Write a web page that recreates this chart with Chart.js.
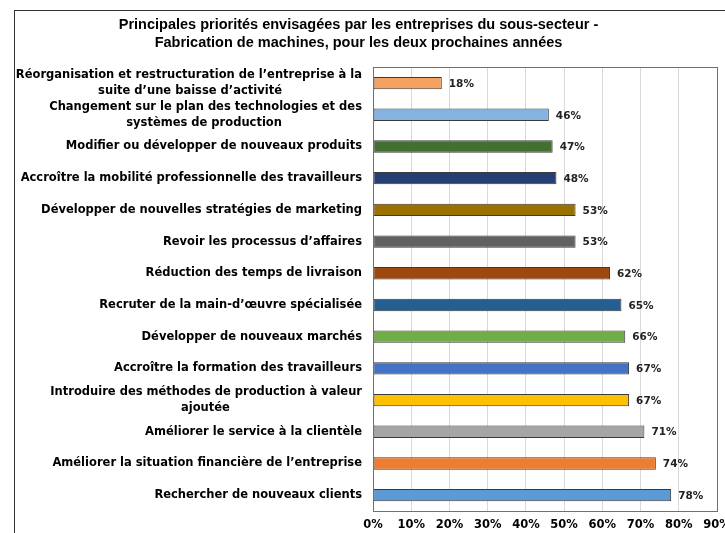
<!DOCTYPE html>
<html>
<head>
<meta charset="utf-8">
<script src="https://cdn.jsdelivr.net/npm/chart.js@4/dist/chart.umd.min.js"></script>
<style>
  html, body { margin: 0; padding: 0; background: #fff; overflow: hidden; }
  #wrap { position: relative; width: 725px; height: 533px; }
  #frame {
    position: absolute; left: 14px; top: 10px; width: 720px; height: 530px;
    border-left: 1px solid #333; border-top: 1px solid #333;
  }
  #chart { position: absolute; left: 0; top: 0; }
</style>
</head>
<body>
<div id="wrap">
  <div id="frame"></div>
  <canvas id="chart" width="725" height="533"></canvas>
</div>
<script>
const titleLines = [
  'Principales priorités envisagées par les entreprises du sous-secteur -',
  'Fabrication de machines, pour les deux prochaines années'
];

const categories = [
  ['Réorganisation et restructuration de l’entreprise à la', 'suite d’une baisse d’activité'],
  ['Changement sur le plan des technologies et des', 'systèmes de production'],
  'Modifier ou développer de nouveaux produits',
  'Accroître la mobilité professionnelle des travailleurs',
  'Développer de nouvelles stratégies de marketing',
  'Revoir les processus d’affaires',
  'Réduction des temps de livraison',
  'Recruter de la main-d’œuvre spécialisée',
  'Développer de nouveaux marchés',
  'Accroître la formation des travailleurs',
  ['Introduire des méthodes de production à valeur', 'ajoutée'],
  'Améliorer le service à la clientèle',
  'Améliorer la situation financière de l’entreprise',
  'Rechercher de nouveaux clients'
];

const values = [18, 46, 47, 48, 53, 53, 62, 65, 66, 67, 67, 71, 74, 78];

const barColors = [
  '#F4A262', '#83B3E1', '#437030', '#243F73', '#9A7000', '#616161', '#9E480E',
  '#255E91', '#70AD47', '#4472C4', '#FFC000', '#A5A5A5', '#ED7D31', '#5B9BD5'
];

const xTicks = [0, 10, 20, 30, 40, 50, 60, 70, 80, 90];

const labelFont = { family: 'DejaVu Sans', size: 11.5, weight: 'bold', lineHeight: 1.4 };

// pad the shorter lines of a wrapped label so they look centred under the long one
const measure = document.createElement('canvas').getContext('2d');
measure.font = 'bold 11.5px "DejaVu Sans"';
function centreLines(lines) {
  if (!Array.isArray(lines)) return lines;
  const widths = lines.map(l => measure.measureText(l).width);
  const max = Math.max(...widths);
  const space = measure.measureText(' ').width;
  return lines.map((l, i) => l + ' '.repeat(Math.round((max - widths[i]) / 2 / space)));
}

const valueLabels = {
  id: 'valueLabels',
  afterDatasetsDraw(chart) {
    const ctx = chart.ctx;
    const meta = chart.getDatasetMeta(0);
    ctx.save();
    ctx.font = 'bold 10.5px "DejaVu Sans"';
    ctx.fillStyle = '#222';
    ctx.textAlign = 'left';
    ctx.textBaseline = 'middle';
    meta.data.forEach((bar, i) => {
      ctx.fillText(values[i] + '%', bar.x + 7, bar.y + 1);
    });
    ctx.restore();
  }
};

const plotFrame = {
  id: 'plotFrame',
  afterDraw(chart) {
    const a = chart.chartArea;
    const ctx = chart.ctx;
    ctx.save();
    ctx.strokeStyle = '#707070';
    ctx.lineWidth = 1;
    ctx.strokeRect(Math.round(a.left) + 0.5, Math.round(a.top) + 0.5,
      Math.round(a.right - a.left), Math.round(a.bottom - a.top));
    ctx.restore();
  }
};

new Chart(document.getElementById('chart'), {
  type: 'bar',
  data: {
    labels: categories.map(centreLines),
    datasets: [{
      data: values,
      backgroundColor: barColors,
      borderColor: '#3A3A3A',
      borderWidth: 1,
      borderSkipped: false,
      categoryPercentage: 0.75,
      barPercentage: 0.52
    }]
  },
  plugins: [valueLabels, plotFrame],
  options: {
    indexAxis: 'y',
    responsive: false,
    animation: false,
    layout: { padding: { top: 6, right: 8, bottom: 0, left: 0 } },
    plugins: {
      legend: { display: false },
      tooltip: { enabled: false },
      title: {
        display: true,
        text: titleLines,
        color: '#000',
        font: { family: 'Liberation Sans', size: 14.5, weight: 'bold', lineHeight: 1.25 },
        padding: { top: 10, bottom: 15 }
      }
    },
    scales: {
      x: {
        min: 0,
        max: 90,
        afterBuildTicks(scale) {
          scale.ticks = xTicks.map(v => ({ value: v }));
        },
        afterFit(scale) {
          scale.paddingRight = 0;
          scale.height = 22;
        },
        ticks: {
          callback: v => v + '%',
          color: '#000',
          padding: 7,
          maxRotation: 0,
          font: { family: 'DejaVu Sans', size: 11.5, weight: 'bold' }
        },
        grid: { color: '#D9D9D9', drawTicks: false },
        border: { color: '#595959' }
      },
      y: {
        afterFit(scale) {
          scale.width = 373;
          scale.paddingTop = 0;
          scale.paddingBottom = 0;
        },
        ticks: {
          color: '#000',
          padding: 11,
          autoSkip: false,
          font: labelFont
        },
        grid: { display: false, drawTicks: false },
        border: { color: '#595959' }
      }
    }
  }
});
</script>
</body>
</html>
